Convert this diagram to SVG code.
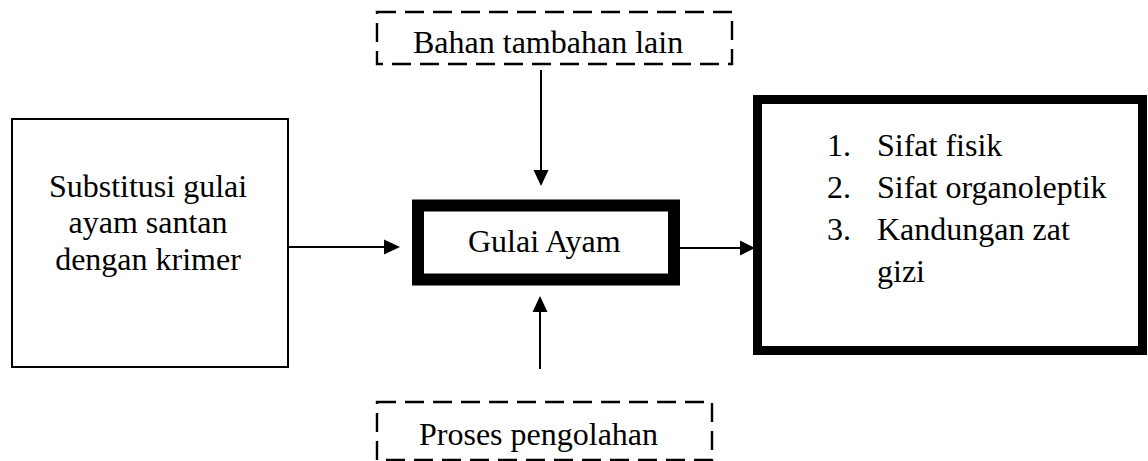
<svg xmlns="http://www.w3.org/2000/svg" width="1148" height="461" viewBox="0 0 1148 461">
<style>
  text { font-family: "Liberation Serif", "Times New Roman", serif; font-size: 32px; fill: #000; }
  .dash { fill: none; stroke: #000; stroke-width: 2.4; stroke-dasharray: 19 9; }
  .ln { stroke: #000; stroke-width: 2; fill: none; }
  .hd { fill: #000; }
</style>
<rect width="1148" height="461" fill="#fff"/>
<g id="bahan">
  <path class="dash" d="M377,12 H732 V64 H377 Z"/>
  <text x="413" y="53">Bahan tambahan lain</text>
</g>
<g id="substitusi">
  <rect x="12" y="119" width="276" height="248" fill="#fff" stroke="#000" stroke-width="2"/>
  <text text-anchor="middle" x="148" y="196.5">Substitusi gulai</text>
  <text text-anchor="middle" x="148" y="233.3">ayam santan</text>
  <text text-anchor="middle" x="148" y="270.1">dengan krimer</text>
</g>
<g id="gulai">
  <rect x="418" y="205.5" width="256" height="74" fill="#fff" stroke="#000" stroke-width="12"/>
  <text x="468" y="252">Gulai Ayam</text>
</g>
<g id="hasil">
  <rect x="757.5" y="99.5" width="385" height="251" fill="#fff" stroke="#000" stroke-width="9"/>
  <text x="827" y="155.5">1.</text>
  <text x="877" y="155.5">Sifat fisik</text>
  <text x="827" y="197.8">2.</text>
  <text x="877" y="197.8">Sifat organoleptik</text>
  <text x="827" y="240.1">3.</text>
  <text x="877" y="240.1">Kandungan zat</text>
  <text x="877" y="282.4">gizi</text>
</g>
<g id="proses">
  <path class="dash" d="M377,402 H712 V460 H377 Z"/>
  <text x="419" y="445">Proses pengolahan</text>
</g>
<g id="connectors">
  <line class="ln" x1="289" y1="247" x2="386" y2="247"/>
  <polygon class="hd" points="400,247 384,239.5 384,254.5"/>
  <line class="ln" x1="680" y1="248" x2="742" y2="248"/>
  <polygon class="hd" points="755,248 740,240.5 740,255.5"/>
  <line class="ln" x1="541" y1="70" x2="541" y2="172"/>
  <polygon class="hd" points="541,186 533.5,170 548.5,170"/>
  <line class="ln" x1="540" y1="369" x2="540" y2="310"/>
  <polygon class="hd" points="540,296 532.5,312 547.5,312"/>
</g>
</svg>
